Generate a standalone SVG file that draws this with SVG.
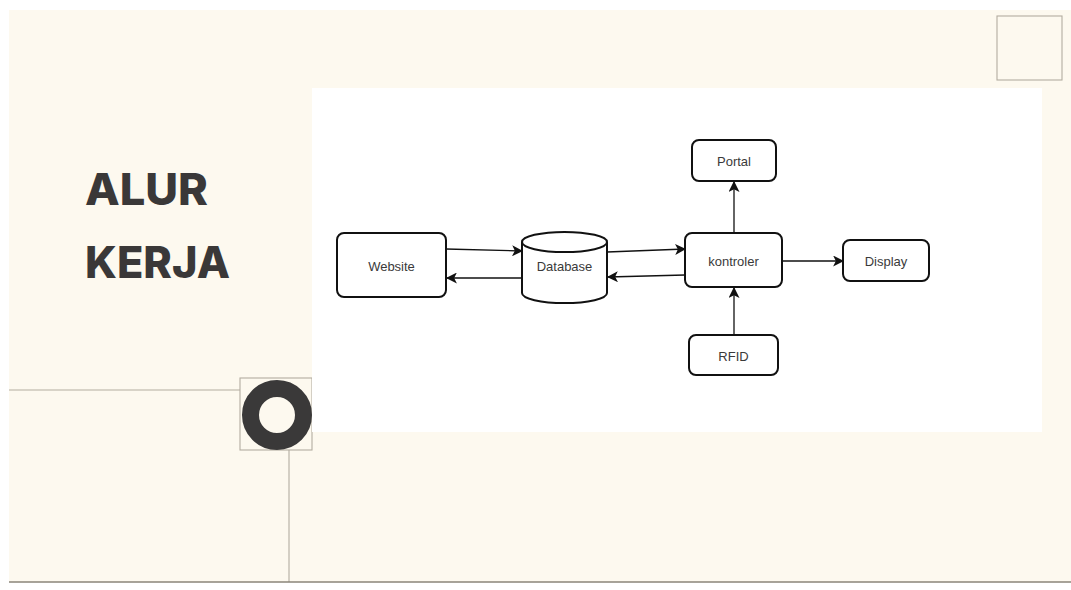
<svg xmlns="http://www.w3.org/2000/svg" width="1071" height="590" viewBox="0 0 1071 590">
<defs>
<style>
.node{fill:#fff;stroke:#111;stroke-width:2}
.lbl{font-family:"Liberation Sans",Arial,sans-serif;font-size:13px;fill:#3a3a3a;text-anchor:middle;dominant-baseline:central}
.deco{fill:none;stroke:#b3ada0;stroke-width:1.1}
.conn{fill:none;stroke:#111;stroke-width:1.3;marker-end:url(#arr)}
.title{font-family:Inter,"Liberation Sans",sans-serif;font-weight:800;font-size:44px;fill:#3a3838}
</style>
<marker id="arr" viewBox="0 0 10 10" refX="9" refY="5" markerWidth="11" markerHeight="11" markerUnits="userSpaceOnUse" orient="auto">
<path d="M0,0 L10,5 L0,10 L2.5,5 Z" fill="#111"/>
</marker>
</defs>
<rect x="0" y="0" width="1071" height="590" fill="#ffffff"/>
<rect x="9" y="10" width="1062" height="572" fill="#fdf9ef"/>
<g id="decor">
<rect x="997" y="16" width="65" height="64" class="deco"/>
<line x1="9" y1="390" x2="240" y2="390" class="deco"/>
<line x1="289" y1="450" x2="289" y2="582" class="deco"/>
<rect x="240" y="378" width="72" height="72" class="deco"/>
<line x1="9" y1="582" x2="1071" y2="582" stroke="#8a8578" stroke-width="1.5"/>
</g>
<rect id="panel" x="312" y="88" width="730" height="344" fill="#ffffff"/>
<circle id="ring" cx="277" cy="415" r="26.5" fill="none" stroke="#3a3939" stroke-width="17"/>
<g id="title">
<text class="title" x="85" y="205" textLength="123" lengthAdjust="spacingAndGlyphs">ALUR</text>
<text class="title" x="85" y="278" textLength="145" lengthAdjust="spacingAndGlyphs">KERJA</text>
</g>
<g id="connectors">
<line x1="446" y1="249" x2="522" y2="251" class="conn"/>
<line x1="522" y1="278" x2="447" y2="278" class="conn"/>
<line x1="607" y1="252" x2="685" y2="249" class="conn"/>
<line x1="685" y1="275" x2="608" y2="277" class="conn"/>
<line x1="734" y1="233" x2="734" y2="182" class="conn"/>
<line x1="782" y1="261" x2="843" y2="261" class="conn"/>
<line x1="734" y1="335" x2="734" y2="288" class="conn"/>
</g>
<g id="website">
<rect x="337" y="233" width="109" height="64" rx="7" class="node"/>
<text x="391.5" y="266" class="lbl">Website</text>
</g>
<g id="database">
<path d="M522,242 A42,10 0 0 1 607,242 L607,293 A42,10 0 0 1 522,293 Z" class="node"/>
<path d="M522,242 A42,10 0 0 0 607,242" class="node" fill="none"/>
<text x="564.5" y="266" class="lbl">Database</text>
</g>
<g id="kontroler">
<rect x="685" y="233" width="97" height="54" rx="7" class="node"/>
<text x="733.5" y="261" class="lbl">kontroler</text>
</g>
<g id="portal">
<rect x="692" y="140" width="84" height="41" rx="7" class="node"/>
<text x="734" y="161" class="lbl">Portal</text>
</g>
<g id="display">
<rect x="843" y="240" width="86" height="41" rx="7" class="node"/>
<text x="886" y="261" class="lbl">Display</text>
</g>
<g id="rfid">
<rect x="689" y="335" width="89" height="40" rx="7" class="node"/>
<text x="733.5" y="356" class="lbl">RFID</text>
</g>
</svg>
